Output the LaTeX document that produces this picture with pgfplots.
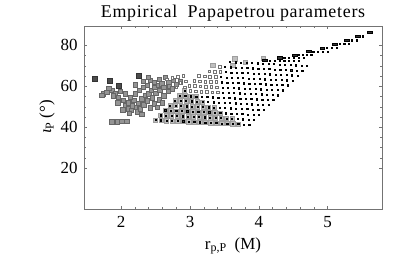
\documentclass[border=0pt]{standalone}
\usepackage{fontspec}
\setmainfont{Liberation Serif}
\usepackage{pgfplots}
\pgfplotsset{compat=1.18}
\begin{document}
\begin{tikzpicture}[x=1bp,y=1bp]
\useasboundingbox (0,0) rectangle (415,258);
\node[anchor=base] at (233,241) {\fontsize{18}{18}\selectfont\addfontfeatures{LetterSpace=4}Empirical\ \ Papapetrou parameters};
\node[anchor=base] at (233,9) {\fontsize{17}{17}\selectfont r\raisebox{-0.35ex}{\fontsize{12}{12}\selectfont p,P}\ \ (M)};
\node[rotate=90,anchor=base] at (51,141) {\fontsize{17}{17}\selectfont{\itshape ι}\raisebox{-0.35ex}{\fontsize{12}{12}\selectfont P}\ (°)};
\begin{axis}[
  at={(84bp,49bp)}, anchor=south west,
  width=298bp, height=183bp, scale only axis,
  xmin=1.46, xmax=5.79, ymin=0, ymax=89.5,
  xtick={2,3,4,5}, ytick={20,40,60,80},
  minor x tick num=4, minor y tick num=3,
  tick align=inside,
  major tick length=3bp, minor tick length=2bp,
  axis line style={black!55, line width=0.6pt},
  every tick/.style={black!55, line width=0.5pt},
  ticklabel style={font=\fontsize{17}{17}\selectfont},
  /pgf/number format/assume math mode=true,
  xticklabel style={yshift=-4bp},
  yticklabel style={xshift=-3bp},
  clip=false,
]
% left cluster, dark squares
\addplot[only marks, mark=square*, mark size=2.5bp, mark options={fill=black!70, draw=black!80}] coordinates {
(1.61,63.8)(1.84,62.6)(1.96,60.5)(2.26,65.2)
};
% left cluster, mid gray squares
\addplot[only marks, mark=square*, mark size=2.2bp, mark options={fill=black!42, draw=black!60}] coordinates {
(1.74,56.4)(1.72,55.6)(1.79,57.2)(1.86,58.0)(1.91,56.4)(1.96,54.8)(2.03,53.2)(2.06,50.7)
(2.11,49.1)(2.15,48.3)(2.20,49.9)(2.25,51.6)(2.18,53.2)(2.30,54.0)(2.35,55.6)(2.40,56.4)
(2.44,58.0)(2.49,59.7)(2.54,60.5)(2.59,61.3)(2.69,62.1)(2.76,62.9)(2.64,64.5)(2.42,62.9)
(2.32,59.7)(2.20,56.4)(2.06,56.4)(2.13,54.8)(1.82,59.0)(1.88,55.5)(1.99,57.5)(2.10,52.0)
(2.16,50.5)(2.23,47.5)(2.28,49.0)(2.33,51.0)(2.38,53.0)(2.45,54.5)(2.50,56.5)(2.56,58.0)
(2.62,59.5)(2.70,60.2)(2.80,61.0)(2.26,58.0)(2.38,60.5)(2.48,62.0)(2.55,63.5)(2.39,64.4)
(1.86,42.6)(1.94,42.6)(2.01,42.9)(2.08,42.9)
(2.12,46.8)(2.30,46.5)(2.42,49.5)(2.48,51.5)(2.55,53.5)(2.62,55.5)(2.68,57.5)(2.74,58.8)
(2.86,62.2)(2.60,52.0)(2.52,49.8)(2.20,60.8)(2.32,62.4)(1.95,52.0)(2.02,48.5)
};
% middle cluster, light gray squares
\addplot[only marks, mark=square*, mark size=2.1bp, mark options={fill=black!25, draw=black!38}] coordinates {
(2.50,43.5)(2.57,45.9)(2.64,48.3)(2.71,50.7)(2.78,53.1)(2.85,55.5)(2.92,57.9)
(2.58,43.4)(2.65,45.8)(2.72,48.2)(2.79,50.6)(2.86,53.0)(2.93,55.4)
(2.66,43.2)(2.73,45.6)(2.80,48.0)(2.87,50.4)(2.94,52.8)(3.01,55.2)
(2.74,43.1)(2.81,45.5)(2.88,47.9)(2.95,50.3)(3.02,52.7)(3.09,55.1)
(2.82,43.0)(2.89,45.4)(2.96,47.8)(3.03,50.2)(3.10,52.6)
(2.90,42.9)(2.97,45.2)(3.04,47.6)(3.11,50.0)(3.18,52.4)
(2.98,42.7)(3.05,45.1)(3.12,47.5)(3.19,49.9)
(3.06,42.6)(3.13,45.0)(3.20,47.4)(3.27,49.8)
(3.14,42.5)(3.21,44.9)(3.28,47.3)(3.35,49.7)
(3.22,42.3)(3.29,44.7)(3.36,47.1)
(3.30,42.2)(3.37,44.6)(3.44,47.0)
(3.38,42.1)(3.45,44.5)(3.46,41.9)(3.53,44.3)(3.54,41.8)(3.61,44.2)(3.62,41.7)(3.70,41.6)
(3.65,73.5)(3.80,71.9)(3.62,70.2)(4.06,73.7)(3.33,70.2)
};
% open marks
\addplot[only marks, mark=square*, mark size=1.3bp, mark options={fill=white, draw=black!55, line width=0.35pt}] coordinates {
(2.99,60.3)(3.06,62.7)(3.13,65.1)(3.00,57.8)(3.07,60.2)(3.14,62.6)(3.21,65.0)(3.28,67.4)
(3.08,57.6)(3.15,60.0)(3.22,62.4)(3.29,64.8)(3.36,67.2)(3.43,69.6)
(3.16,57.5)(3.23,59.9)(3.30,62.3)(3.37,64.7)(3.44,67.1)
(3.24,57.4)(3.31,59.8)(3.38,62.2)(3.32,57.2)(3.39,59.6)(3.40,57.1)
(2.66,63.5)(2.74,64.2)(2.82,64.6)(2.90,65.2)(2.86,61.8)(2.94,62.5)(2.80,59.6)(2.92,59.5)
};
% small dots
\addplot[only marks, mark=square*, mark size=0.6bp, mark options={fill=black!70, draw=none}] coordinates {
(2.50,43.5)(2.57,45.9)(2.64,48.3)(2.71,50.7)(2.78,53.1)(2.85,55.5)(2.92,57.9)
(2.58,43.4)(2.65,45.8)(2.72,48.2)(2.79,50.6)(2.86,53.0)(2.93,55.4)
(2.66,43.2)(2.73,45.6)(2.80,48.0)(2.87,50.4)(2.94,52.8)(3.01,55.2)
(2.74,43.1)(2.81,45.5)(2.88,47.9)(2.95,50.3)(3.02,52.7)(3.09,55.1)(3.51,69.5)(3.58,71.9)
(2.82,43.0)(2.89,45.4)(2.96,47.8)(3.03,50.2)(3.10,52.6)(3.17,55.0)(3.45,64.6)(3.52,67.0)(3.59,69.4)(3.66,71.8)
(2.90,42.9)(2.97,45.2)(3.04,47.6)(3.11,50.0)(3.18,52.4)(3.25,54.8)(3.46,62.0)(3.53,64.4)(3.60,66.8)(3.67,69.2)(3.74,71.6)
(2.98,42.7)(3.05,45.1)(3.12,47.5)(3.19,49.9)(3.26,52.3)(3.33,54.7)(3.47,59.5)(3.54,61.9)(3.61,64.3)(3.68,66.7)(3.75,69.1)(3.82,71.5)
(3.06,42.6)(3.13,45.0)(3.20,47.4)(3.27,49.8)(3.34,52.2)(3.41,54.6)(3.48,57.0)(3.55,59.4)(3.62,61.8)(3.69,64.2)(3.76,66.6)(3.83,69.0)(3.90,71.4)
(3.14,42.5)(3.21,44.9)(3.28,47.3)(3.35,49.7)(3.42,52.1)(3.49,54.5)(3.56,56.9)(3.63,59.3)(3.70,61.7)(3.77,64.1)(3.84,66.5)(3.91,68.9)(3.98,71.3)
(3.22,42.3)(3.29,44.7)(3.36,47.1)(3.43,49.5)(3.50,51.9)(3.57,54.3)(3.64,56.7)(3.71,59.1)(3.78,61.5)(3.85,63.9)(3.92,66.3)(3.99,68.7)(4.06,71.1)
(3.30,42.2)(3.37,44.6)(3.44,47.0)(3.51,49.4)(3.58,51.8)(3.65,54.2)(3.72,56.6)(3.79,59.0)(3.86,61.4)(3.93,63.8)(4.00,66.2)(4.07,68.6)(4.14,71.0)
(3.38,42.1)(3.45,44.5)(3.52,46.9)(3.59,49.3)(3.66,51.7)(3.73,54.1)(3.80,56.5)(3.87,58.9)(3.94,61.3)(4.01,63.7)(4.08,66.1)(4.15,68.5)(4.22,70.9)
(3.46,41.9)(3.53,44.3)(3.60,46.7)(3.67,49.1)(3.74,51.5)(3.81,53.9)(3.88,56.3)(3.95,58.7)(4.02,61.1)(4.09,63.5)(4.16,65.9)(4.23,68.3)(4.30,70.7)
(3.54,41.8)(3.61,44.2)(3.68,46.6)(3.75,49.0)(3.82,51.4)(3.89,53.8)(3.96,56.2)(4.03,58.6)(4.10,61.0)(4.17,63.4)(4.24,65.8)(4.31,68.2)(4.38,70.6)
(3.62,41.7)(3.69,44.1)(3.76,46.5)(3.83,48.9)(3.90,51.3)(3.97,53.7)(4.04,56.1)(4.11,58.5)(4.18,60.9)(4.25,63.3)(4.32,65.7)(4.39,68.1)(4.46,70.5)
(3.70,41.6)(3.77,43.9)(3.84,46.3)(3.91,48.7)(3.98,51.1)(4.05,53.5)(4.12,55.9)(4.19,58.3)(4.26,60.7)(4.33,63.1)(4.40,65.5)(4.47,67.9)(4.54,70.3)
(3.78,41.4)(3.85,43.8)(3.92,46.2)(3.99,48.6)(4.06,51.0)(4.13,53.4)(4.20,55.8)(4.27,58.2)(4.34,60.6)(4.41,63.0)(4.48,65.4)(4.55,67.8)(4.62,70.2)
(3.86,41.3)(3.93,43.7)(4.00,46.1)(4.07,48.5)(4.14,50.9)(4.21,53.3)(4.28,55.7)(4.35,58.1)(4.42,60.5)(4.49,62.9)(4.56,65.3)(4.63,67.7)(4.70,70.1)
(4.16,72.7)(4.23,72.7)(4.30,72.7)(4.37,72.7)(4.44,72.7)(4.51,72.7)(4.58,72.7)
(4.37,74.0)(4.44,74.0)(4.51,74.0)(4.58,74.0)(4.65,74.0)
(4.58,75.3)(4.64,75.3)(4.70,75.3)(4.76,75.3)
(4.79,77.0)(4.86,77.0)(4.93,77.0)(5.00,77.0)
(4.99,78.8)(5.06,78.8)(5.13,78.8)
(5.17,80.7)(5.24,80.7)(5.31,80.7)
(5.35,82.6)(5.42,82.6)(5.51,84.5)
};
% dark dashes at the start of the top rows
\addplot[only marks, mark=square*, mark size=1.1bp, mark options={xscale=2.2, fill=black!80, draw=none}] coordinates {
(4.09,72.7)(4.30,74.0)(4.52,75.3)(4.72,77.0)(4.92,78.8)(5.10,80.7)(5.28,82.6)(5.44,84.5)(5.61,86.5)
};
\end{axis}
\end{tikzpicture}
\end{document}
